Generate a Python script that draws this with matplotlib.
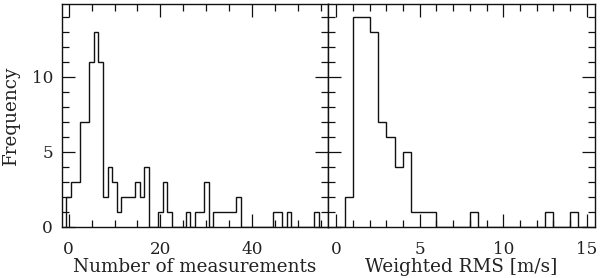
import matplotlib
matplotlib.use("Agg")
import matplotlib.pyplot as plt
from matplotlib.ticker import MultipleLocator
import numpy as np

# ---- data ----
# Left: number of measurements per star (bins of width 1 centred on integers 0..54)
nmeas_first_center = 0
nmeas_bin_width = 1
nmeas_counts = [2, 3, 3, 7, 7, 11, 13, 11, 2, 4,
                3, 1, 2, 2, 2, 3, 2, 4, 0, 0,
                1, 3, 1, 0, 0, 0, 1, 0, 1, 1,
                3, 0, 1, 1, 1, 1, 1, 2, 0, 0,
                0, 0, 0, 0, 0, 1, 1, 0, 1, 0,
                0, 0, 0, 0, 1]

# Right: weighted RMS [m/s] (bins of width 0.5 starting at 0)
rms_first_edge = 0.0
rms_bin_width = 0.5
rms_counts = [0, 2, 14, 14, 13, 7, 6, 4, 5, 1,
              1, 1, 0, 0, 0, 0, 1, 0, 0, 0,
              0, 0, 0, 0, 0, 1, 0, 0, 1, 0]

left_xticks = [0, 20, 40]
right_xticks = [0, 5, 10, 15]
yticks = [0, 5, 10]

nmeas_edges = (nmeas_first_center - nmeas_bin_width / 2
               + nmeas_bin_width * np.arange(len(nmeas_counts) + 1))
rms_edges = rms_first_edge + rms_bin_width * np.arange(len(rms_counts) + 1)

# ---- style ----
FONT = ["DejaVu Serif"]
FS_LABEL = 13.2
FS_TICK = 12.2
TEXT_COL = "#222222"
plt.rcParams["font.family"] = FONT
plt.rcParams["axes.unicode_minus"] = False
plt.rcParams["axes.linewidth"] = 1.0

fig = plt.figure(figsize=(6.0, 2.78), dpi=100)
W, H = 600.0, 278.0
x0, xmid, x1 = 61.7, 328.0, 595.0
ytop, ybot = 4.0, 226.7
axL = fig.add_axes([x0 / W, 1 - ybot / H, (xmid - x0) / W, (ybot - ytop) / H])
axR = fig.add_axes([xmid / W, 1 - ybot / H, (x1 - xmid) / W, (ybot - ytop) / H])

col = "#111111"
axL.stairs(nmeas_counts, nmeas_edges, color=col, lw=1.0)
axR.stairs(rms_counts, rms_edges, color=col, lw=1.0)

axL.set_xlim(-1.5, 56.5)
axR.set_xlim(-0.5, 15.5)
for ax in (axL, axR):
    ax.set_ylim(0, 14.85)
    ax.yaxis.set_major_locator(MultipleLocator(5))
    ax.yaxis.set_minor_locator(MultipleLocator(1))
    ax.tick_params(which="both", direction="in", top=True, right=True,
                   labelsize=FS_TICK, color=col, labelcolor=TEXT_COL, width=0.9)
    ax.tick_params(which="major", length=9.5)
    ax.tick_params(which="minor", length=4.8)
    ax.tick_params(axis="x", which="major", pad=10.5)
    ax.tick_params(axis="y", which="major", pad=6.2)
    for s in ax.spines.values():
        s.set_color(col)

axL.set_xticks(left_xticks)
axL.xaxis.set_minor_locator(MultipleLocator(5))
axL.set_yticks(yticks)
axR.set_xticks(right_xticks)
axR.xaxis.set_minor_locator(MultipleLocator(1))
axR.set_yticks(yticks)
axR.tick_params(axis="y", labelleft=False)

axL.set_xlabel("Number of measurements", fontsize=FS_LABEL, va="baseline", color=TEXT_COL)
axR.set_xlabel("Weighted RMS [m/s]", fontsize=FS_LABEL, va="baseline", color=TEXT_COL)
axL.xaxis.set_label_coords(0.5, (ybot - 272.0) / (ybot - ytop))
axR.xaxis.set_label_coords(0.5, (ybot - 272.0) / (ybot - ytop))
axL.set_ylabel("Frequency", fontsize=FS_LABEL, va="center", color=TEXT_COL)
axL.yaxis.set_label_coords((11.0 - x0) / (xmid - x0), 0.5)

fig.savefig("out.png", dpi=100)
